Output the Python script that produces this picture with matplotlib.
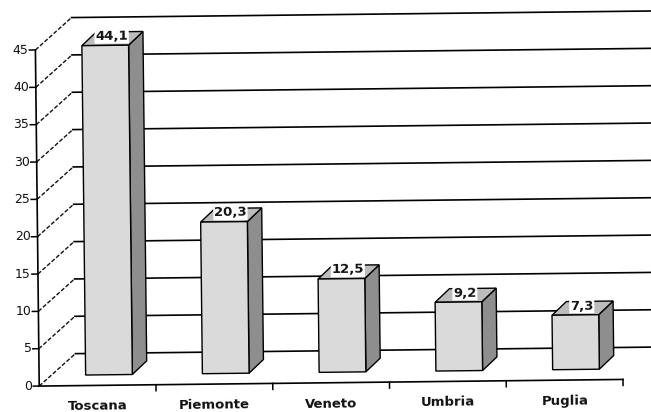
import matplotlib
matplotlib.use("Agg")
import matplotlib.pyplot as plt
from matplotlib.patches import Polygon
from matplotlib.transforms import Affine2D

# ---- data ----
categories = ["Toscana", "Piemonte", "Veneto", "Umbria", "Puglia"]
values = [44.1, 20.3, 12.5, 9.2, 7.3]
value_labels = ["44,1", "20,3", "12,5", "9,2", "7,3"]
y_ticks = [0, 5, 10, 15, 20, 25, 30, 35, 40, 45]
y_tick_labels = ["0", "5", "10", "15", "20", "25", "30", "35", "40", "45"]

# ---- layout ----
W, H = 651, 412
fig = plt.figure(figsize=(W / 100, H / 100), dpi=100)
fig.patch.set_facecolor("white")

left, right = 37.2, 621.0          # front plane of the plot (pixels)
y0_img, ytop_img = 382.8, 46.7
ax = fig.add_axes([left / W, (H - y0_img) / H, (right - left) / W, (y0_img - ytop_img) / H])
ax.set_autoscale_on(False)
ax.set_xlim(-0.5, len(categories) - 0.5)
ax.set_ylim(0, 45)
ax.set_axis_off()

ppx = (right - left) / len(categories)
ppy = (y0_img - ytop_img) / 45.0


def P(x, v, off):
    """oblique projection: data point + depth offset in pixels"""
    return (x + off[0] / ppx, v + off[1] / ppy)


ANG = 0.65
rot = Affine2D().rotate_deg_around(W / 2, H / 2, ANG)
tr = ax.transData + rot

WALL = (36.5, 32.0)
BF = (11.5, 10.5)
BB = (26.0, 24.0)
LBL = (18.0, 19.5)
FRONT = (0.0, 0.0)
bw = 0.40

# back wall gridlines + side wall diagonals
xmin, xmax = -0.5, len(categories) - 0.5
for t in y_ticks:
    a, b = P(xmin, t, WALL), P(xmax, t, WALL)
    ax.add_line(plt.Line2D([a[0], b[0]], [a[1], b[1]], color="black", lw=1.2,
                           transform=tr, clip_on=False, zorder=1))
    c = P(xmin, t, FRONT)
    ax.add_line(plt.Line2D([c[0], a[0]], [c[1], a[1]], color="#111111", lw=1.0,
                           linestyle=(0, (3, 1.4)), transform=tr, clip_on=False, zorder=1))

# axes lines
a, b = P(xmin, 0, FRONT), P(xmin, 45, FRONT)
ax.add_line(plt.Line2D([a[0], b[0]], [a[1], b[1]], color="black", lw=1.2,
                       transform=tr, clip_on=False, zorder=2))
a, b = P(xmin, 0, FRONT), P(xmax, 0, FRONT)
ax.add_line(plt.Line2D([a[0], b[0]], [a[1], b[1]], color="black", lw=1.2,
                       transform=tr, clip_on=False, zorder=2))

# y ticks and labels
for t, lab in zip(y_ticks, y_tick_labels):
    a, b = P(xmin, t, FRONT), P(xmin, t, (-6, 0))
    ax.add_line(plt.Line2D([a[0], b[0]], [a[1], b[1]], color="black", lw=1.1,
                           transform=tr, clip_on=False, zorder=2))
    p = P(xmin, t, (-7, 0))
    ax.text(p[0], p[1], lab, transform=tr, rotation=ANG, rotation_mode="anchor",
            ha="right", va="center", fontsize=9, color="#111111", zorder=4)

# x ticks
for k in range(1, len(categories) + 1):
    bx = xmin + k
    a, b = P(bx, 0, FRONT), P(bx, 0, (0, -6))
    ax.add_line(plt.Line2D([a[0], b[0]], [a[1], b[1]], color="black", lw=1.1,
                           transform=tr, clip_on=False, zorder=2))

# category labels
for i, cat in enumerate(categories):
    p = P(i, 0, (0, -21))
    ax.text(p[0], p[1], cat, transform=tr, rotation=ANG, rotation_mode="anchor",
            ha="center", va="center", fontsize=9.5, fontweight="bold", color="#111111", zorder=4)

# bars
for i, (v, lab) in enumerate(zip(values, value_labels)):
    x0, x1 = i - bw / 2, i + bw / 2
    side = [P(x1, 0, BF), P(x1, 0, BB), P(x1, v, BB), P(x1, v, BF)]
    top = [P(x0, v, BF), P(x1, v, BF), P(x1, v, BB), P(x0, v, BB)]
    front = [P(x0, 0, BF), P(x1, 0, BF), P(x1, v, BF), P(x0, v, BF)]
    for poly, fc in ((side, "#8e8e8e"), (top, "#bcbcbc"), (front, "#dadada")):
        ax.add_patch(Polygon(poly, closed=True, facecolor=fc, edgecolor="black",
                             lw=1.0, joinstyle="miter", transform=tr, clip_on=False, zorder=3))
    p = P(i, v, LBL)
    ax.text(p[0], p[1], lab, transform=tr, rotation=ANG, rotation_mode="anchor",
            ha="center", va="center", fontsize=9.5, fontweight="bold", color="#111111",
            bbox=dict(facecolor="white", edgecolor="none", pad=0.6), zorder=5)

fig.savefig("out.png", dpi=100, facecolor="white")
